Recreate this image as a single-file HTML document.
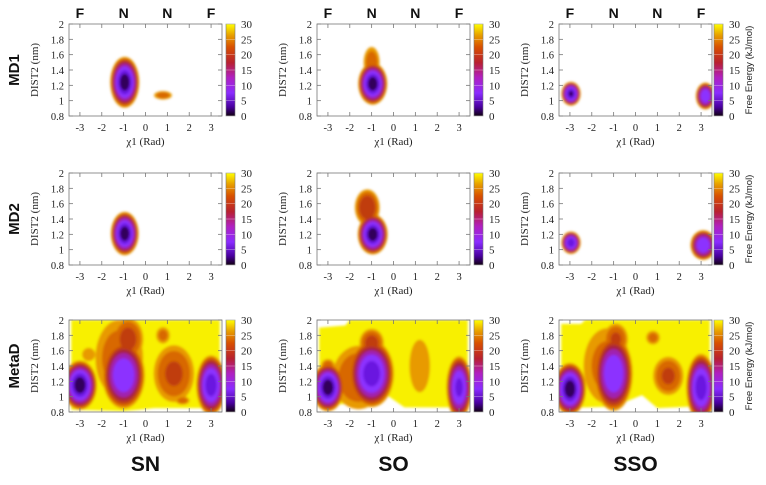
<!DOCTYPE html>
<html><head><meta charset="utf-8"><style>
body{margin:0;background:#fff;width:766px;height:480px;overflow:hidden}
svg text{font-family:"Liberation Serif",serif;fill:#222}
.s{font-family:"Liberation Sans",sans-serif}
.b{font-family:"Liberation Sans",sans-serif;font-weight:bold;fill:#111}
</style></head><body>
<svg id="fig" width="766" height="480" viewBox="0 0 766 480" xmlns="http://www.w3.org/2000/svg">
<defs>
<linearGradient id="cbg" x1="0" y1="1" x2="0" y2="0">
<stop offset="0" stop-color="#100010"/><stop offset="0.1" stop-color="#4a00a0"/>
<stop offset="0.25" stop-color="#8a2cff"/><stop offset="0.42" stop-color="#b020c0"/>
<stop offset="0.58" stop-color="#b82030"/><stop offset="0.75" stop-color="#d85000"/>
<stop offset="0.88" stop-color="#e8a000"/><stop offset="1" stop-color="#ffff00"/>
</linearGradient>
<filter id="bl"><feGaussianBlur stdDeviation="1.4"/></filter>
</defs>
</svg>
<script>
// ---- data ----
const colNames = ["SN","SO","SSO"];
const rowNames = ["MD1","MD2","MetaD"];
const xTicks = [-3,-2,-1,0,1,2,3];
const yTicks = [0.8,1,1.2,1.4,1.6,1.8,2];
const cbTicks = [0,5,10,15,20,25,30];
const topLabels = ["F","N","N","F"];
const topLabelChi = [-3,-1,1,3];
// basins: [chi, dist, halfWidthChi, halfWidthDist, minEnergy]
const basinsMD1SN = [[-0.95,1.24,0.68,0.34,0],[0.8,1.07,0.45,0.06,21]];
const basinsMD1SO = [[-0.95,1.22,0.68,0.28,0],[-1.0,1.5,0.4,0.22,21]];
const basinsMD1SSO = [[-2.95,1.09,0.45,0.16,1],[3.2,1.06,0.45,0.18,4]];
const basinsMD2SN = [[-0.95,1.21,0.65,0.29,0]];
const basinsMD2SO = [[-0.95,1.2,0.7,0.27,0],[-1.2,1.55,0.6,0.25,16]];
const basinsMD2SSO = [[-2.95,1.09,0.45,0.15,2],[3.1,1.06,0.6,0.2,4]];
const basinsMetaSN = [[-1.2,1.5,1.2,0.55,21],[-3.0,1.15,0.8,0.33,0],[-1.0,1.28,1.0,0.45,4],[-0.8,1.75,0.75,0.3,18],[1.3,1.3,1.0,0.4,19],[0.8,1.8,0.35,0.12,22],[3.0,1.15,0.7,0.4,2],[1.7,0.95,0.35,0.06,21],[-2.6,1.55,0.35,0.1,24]];
const basinsMetaSO = [[-1.6,1.25,1.3,0.45,20],[-3.0,1.12,0.75,0.32,0],[-1.0,1.3,1.05,0.45,2],[-1.0,1.7,0.6,0.2,18],[1.2,1.4,0.55,0.4,24],[3.0,1.12,0.6,0.42,3],[-3.0,1.4,0.35,0.1,21]];
const basinsMetaSSO = [[-1.3,1.4,1.2,0.55,22],[-3.0,1.1,0.75,0.35,0],[-1.0,1.3,0.9,0.5,4],[-0.9,1.75,0.6,0.22,19],[0.8,1.77,0.35,0.1,22],[1.5,1.27,0.75,0.27,19],[3.0,1.12,0.7,0.45,2]];
const panelBasins = [[basinsMD1SN,basinsMD1SO,basinsMD1SSO],[basinsMD2SN,basinsMD2SO,basinsMD2SSO],[basinsMetaSN,basinsMetaSO,basinsMetaSSO]];
// sampled (yellow) region outline for MetaD: [chi, dist]
const metaRegion = [
 [[-3.4,2],[3.4,2],[3.4,0.85],[0.4,0.85],[-0.3,0.83],[-1,0.81],[-3.4,0.83]],
 [[-3.4,1.9],[-2.2,1.93],[-2,2],[3.4,2],[3.4,0.86],[0.5,0.86],[-0.3,1.02],[-1.5,0.92],[-3.4,0.88]],
 [[-3.4,1.95],[-2.5,1.95],[-2.3,2],[3.4,2],[3.4,0.88],[1,0.85],[0.3,1.02],[-1,0.87],[-3.4,0.85]]];
// ---- layout ----
const colX0=[69,317,559], rowY0=[24,173,320], PW=153, PH=92;
const levels=[[28,"#e89a00"],[24,"#d86800"],[20,"#c03c10"],[16,"#a82040"],[12,"#a020b0"],[8,"#8c30ff"],[4,"#6a18e0"],[1.5,"#30005a"]];
const svg=document.getElementById('fig');
const NS="http://www.w3.org/2000/svg";
function mk(t,a,p){const e=document.createElementNS(NS,t);for(const k in a)e.setAttribute(k,a[k]);(p||svg).appendChild(e);return e;}
rowNames.forEach((rn,r)=>{
 const t=mk('text',{x:0,y:0,class:'b','font-size':15,'text-anchor':'middle',transform:`translate(19,${rowY0[r]+PH/2}) rotate(-90)`});
 
 
 t.textContent=rn;
});
colNames.forEach((cn,c)=>{
 const x0=colX0[c];
 const sx=v=>x0+(v+3.5)/7*PW;
 const t=mk('text',{x:x0+PW/2,y:471,class:'b','font-size':21,'text-anchor':'middle'});
 
 
 t.textContent=cn;
 topLabels.forEach((l,i)=>{
  const h=mk('text',{x:sx(topLabelChi[i]),y:18,class:'b','font-size':14,'text-anchor':'middle'});
  
  
  h.textContent=l;
 });
 rowNames.forEach((rn,r)=>{
  const y0=rowY0[r];
  const sy=v=>y0+(2-v)/1.2*PH;
  const g=mk('g',{});
  
  
  const cid='c'+r+c;
  const cp=mk('clipPath',{id:cid},g);mk('rect',{x:x0,y:y0,width:PW,height:PH},cp);
  const hg=mk('g',{'clip-path':`url(#${cid})`},g);
  const inner=mk('g',{filter:'url(#bl)'},hg);
  if(r===2){
   const poly=mk('polygon',{points:metaRegion[c].map(p=>sx(p[0])+','+sy(p[1])).join(' '),fill:'#f8f000'},inner);
   
   
  }
  levels.forEach(([L,col])=>{
   panelBasins[r][c].forEach(b=>{
    if(b[4]>=L)return;
    const f=Math.pow((L-b[4])/(30-b[4]),0.38);
    const e=mk('ellipse',{cx:sx(b[0]),cy:sy(b[1]),rx:b[2]*f/7*PW,ry:b[3]*f/1.2*PH,fill:col},inner);
    
    
   });
  });
  mk('rect',{x:x0,y:y0,width:PW,height:PH,fill:'none',stroke:'#777','stroke-width':0.8},g);
  xTicks.forEach(v=>{
   mk('line',{x1:sx(v),x2:sx(v),y1:y0+PH,y2:y0+PH-4,stroke:'#777','stroke-width':0.8},g);
   mk('line',{x1:sx(v),x2:sx(v),y1:y0,y2:y0+4,stroke:'#777','stroke-width':0.8},g);
   const t=mk('text',{x:sx(v),y:y0+PH+15,'font-size':10.5,'text-anchor':'middle'},g);
   
   
   t.textContent=v;
  });
  yTicks.forEach(v=>{
   mk('line',{x1:x0,x2:x0+4,y1:sy(v),y2:sy(v),stroke:'#777','stroke-width':0.8},g);
   mk('line',{x1:x0+PW,x2:x0+PW-4,y1:sy(v),y2:sy(v),stroke:'#777','stroke-width':0.8},g);
   const t=mk('text',{x:x0-5,y:sy(v)+4,'font-size':10.5,'text-anchor':'end'},g);
   
   
   t.textContent=v;
  });
  const xl=mk('text',{x:x0+PW/2,y:y0+PH+29,'font-size':11,'text-anchor':'middle'},g);
  
  
  xl.textContent='χ1 (Rad)';
  const yl=mk('text',{x:0,y:0,'font-size':11,'text-anchor':'middle',transform:`translate(${x0-31},${y0+PH/2}) rotate(-90)`},g);
  
  
  yl.textContent='DIST2 (nm)';
  const cbx=x0+PW+4+(c===2?-2:0);
  const cb=mk('rect',{x:cbx,y:y0,width:9,height:PH,fill:'url(#cbg)',stroke:'#777','stroke-width':0.6},g);
  
  
  cbTicks.forEach(v=>{
   const yy=y0+PH-v/30*PH;
   mk('line',{x1:cbx,x2:cbx+9,y1:yy,y2:yy,stroke:'#fff','stroke-width':0.5,opacity:0.6},g);
   const t=mk('text',{x:cbx+15,y:yy+4,'font-size':11},g);
   
   
   t.textContent=v;
  });
  if(c===2){
   const ct=mk('text',{x:0,y:0,class:'s','font-size':9.5,'text-anchor':'middle',transform:`translate(${cbx+38},${y0+PH/2}) rotate(-90)`},g);
   
   
   ct.textContent='Free Energy (kJ/mol)';
  }
 });
});
</script>
</body></html>
